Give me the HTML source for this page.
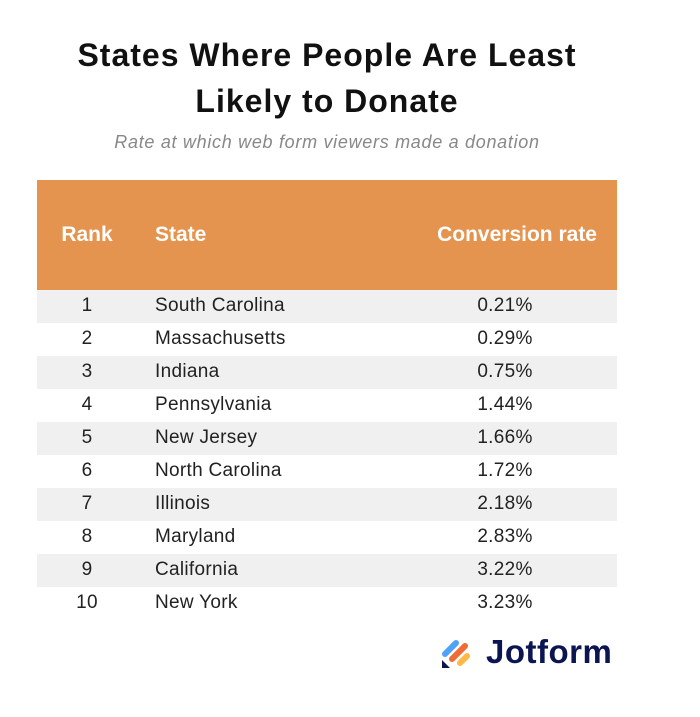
<!DOCTYPE html>
<html><head><style>
body{margin:0;width:700px;height:717px;background:#fff;font-family:"Liberation Sans",sans-serif;position:relative;overflow:hidden}
.t{position:absolute;left:0;width:654px;text-align:center;font-weight:bold;font-size:32px;letter-spacing:1px;color:#111}
.sub{position:absolute;left:0;width:654px;text-align:center;top:132px;font-style:italic;font-size:18px;letter-spacing:0.7px;color:#888}
.tbl{position:absolute;left:37px;top:180px;width:580px}
.hd{height:110px;background:#e5944f;position:relative;color:#fff;font-weight:bold;font-size:21px}
.hd span,.r span{position:absolute}
.r{height:33px;position:relative;font-size:19px;letter-spacing:0.3px;color:#222}
.r.g{background:#f0f0f0}
.c1{width:100px;left:0;text-align:center}
.c2{left:118px}
.c3{left:400px;width:136px;text-align:center}
</style></head><body>
<div class="t" style="top:37px">States Where People Are Least</div>
<div class="t" style="top:83px">Likely to Donate</div>
<div class="sub">Rate at which web form viewers made a donation</div>
<div class="tbl">
<div class="hd"><span class="c1" style="top:43px">Rank</span><span class="c2" style="top:43px">State</span><span style="top:43px;right:20px">Conversion rate</span></div>
<div class="r g"><span class="c1" style="top:5px">1</span><span class="c2" style="top:5px">South Carolina</span><span class="c3" style="top:5px">0.21%</span></div>
<div class="r"><span class="c1" style="top:5px">2</span><span class="c2" style="top:5px">Massachusetts</span><span class="c3" style="top:5px">0.29%</span></div>
<div class="r g"><span class="c1" style="top:5px">3</span><span class="c2" style="top:5px">Indiana</span><span class="c3" style="top:5px">0.75%</span></div>
<div class="r"><span class="c1" style="top:5px">4</span><span class="c2" style="top:5px">Pennsylvania</span><span class="c3" style="top:5px">1.44%</span></div>
<div class="r g"><span class="c1" style="top:5px">5</span><span class="c2" style="top:5px">New Jersey</span><span class="c3" style="top:5px">1.66%</span></div>
<div class="r"><span class="c1" style="top:5px">6</span><span class="c2" style="top:5px">North Carolina</span><span class="c3" style="top:5px">1.72%</span></div>
<div class="r g"><span class="c1" style="top:5px">7</span><span class="c2" style="top:5px">Illinois</span><span class="c3" style="top:5px">2.18%</span></div>
<div class="r"><span class="c1" style="top:5px">8</span><span class="c2" style="top:5px">Maryland</span><span class="c3" style="top:5px">2.83%</span></div>
<div class="r g"><span class="c1" style="top:5px">9</span><span class="c2" style="top:5px">California</span><span class="c3" style="top:5px">3.22%</span></div>
<div class="r"><span class="c1" style="top:5px">10</span><span class="c2" style="top:5px">New York</span><span class="c3" style="top:5px">3.23%</span></div>
</div>
<svg style="position:absolute;left:440px;top:638px" width="34" height="32" viewBox="0 0 34 32">
<line x1="5" y1="16" x2="16" y2="5" stroke="#4fa3f7" stroke-width="6" stroke-linecap="round"/>
<line x1="12" y1="21" x2="25" y2="8" stroke="#f06b35" stroke-width="6" stroke-linecap="round"/>
<line x1="20" y1="25" x2="27" y2="18" stroke="#fdb944" stroke-width="6" stroke-linecap="round"/>
<polygon points="2,22 2,30 10,30" fill="#0a1551"/>
</svg>
<div style="position:absolute;left:486px;top:633px;font-size:33px;letter-spacing:0.5px;font-weight:bold;color:#0a1551">Jotform</div>
</body></html>
